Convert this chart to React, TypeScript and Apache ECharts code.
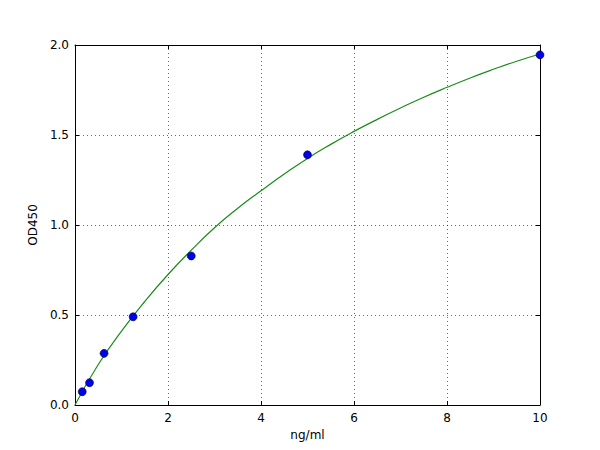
import { useEffect, useRef } from 'react';
import * as echarts from 'echarts';

// standard concentrations (ng/ml) and measured OD450
const stdConc = [0.156, 0.3125, 0.625, 1.25, 2.5, 5, 10];
const stdOd = [0.074, 0.124, 0.287, 0.49, 0.828, 1.39, 1.945];

// fitted curve, every 0.5 ng/ml
const fitConc = [0, 0.5, 1, 1.5, 2, 2.5, 3, 3.5, 4, 4.5, 5, 5.5, 6, 6.5, 7, 7.5, 8, 8.5, 9, 9.5, 10];
const fitOd = [
  0, 0.225, 0.41, 0.575, 0.725, 0.86, 0.985, 1.093, 1.19, 1.283, 1.37,
  1.448, 1.52, 1.587, 1.65, 1.71, 1.765, 1.817, 1.865, 1.91, 1.95,
];

const FONT = 'DejaVu Sans';

export default function App() {
  const elRef = useRef<HTMLDivElement>(null);

  useEffect(() => {
    const el = elRef.current;
    if (!el) return;
    const chart = echarts.init(el, undefined, { renderer: 'svg' });

    const tick = { show: true, inside: true, length: 4, lineStyle: { color: '#000' } };
    const line = { show: true, onZero: false, lineStyle: { color: '#000', width: 1 } };
    const grid = { show: true, lineStyle: { color: '#000', type: [1, 3] as number[], width: 0.7, opacity: 0.85 } };

    chart.setOption({
      animation: false,
      backgroundColor: '#fff',
      grid: { left: 75, right: 60, top: 45, bottom: 45, containLabel: false },
      xAxis: [
        {
          type: 'value', min: 0, max: 10, interval: 2,
          name: 'ng/ml', nameLocation: 'middle', nameGap: 23,
          nameTextStyle: { fontFamily: FONT, fontSize: 12, color: '#000' },
          axisLine: line, axisTick: tick, splitLine: grid,
          axisLabel: { fontFamily: FONT, fontSize: 12, color: '#000', margin: 7 },
        },
        {
          type: 'value', min: 0, max: 10, interval: 2, position: 'top',
          axisLine: line, axisTick: tick, splitLine: { show: false }, axisLabel: { show: false },
        },
      ],
      yAxis: [
        {
          type: 'value', min: 0, max: 2, interval: 0.5,
          name: 'OD450', nameLocation: 'middle', nameGap: 30,
          nameTextStyle: { fontFamily: FONT, fontSize: 12, color: '#000' },
          axisLine: line, axisTick: tick, splitLine: grid,
          axisLabel: { fontFamily: FONT, fontSize: 12, color: '#000', margin: 6, formatter: (v: number) => v.toFixed(1) },
        },
        {
          type: 'value', min: 0, max: 2, interval: 0.5, position: 'right',
          axisLine: line, axisTick: tick, splitLine: { show: false }, axisLabel: { show: false },
        },
      ],
      series: [
        {
          type: 'line',
          data: fitConc.map((x, i) => [x, fitOd[i]]),
          smooth: true,
          showSymbol: false,
          lineStyle: { color: '#1a8c1a', width: 1.2 },
          z: 2,
        },
        {
          type: 'scatter',
          data: stdConc.map((x, i) => [x, stdOd[i]]),
          symbolSize: 8,
          itemStyle: { color: '#0000ee', borderColor: '#000033', borderWidth: 0.6, opacity: 1 },
          z: 3,
        },
      ],
    });

    return () => chart.dispose();
  }, []);

  return <div ref={elRef} style={{ width: 600, height: 450, margin: -8 }} />;
}
